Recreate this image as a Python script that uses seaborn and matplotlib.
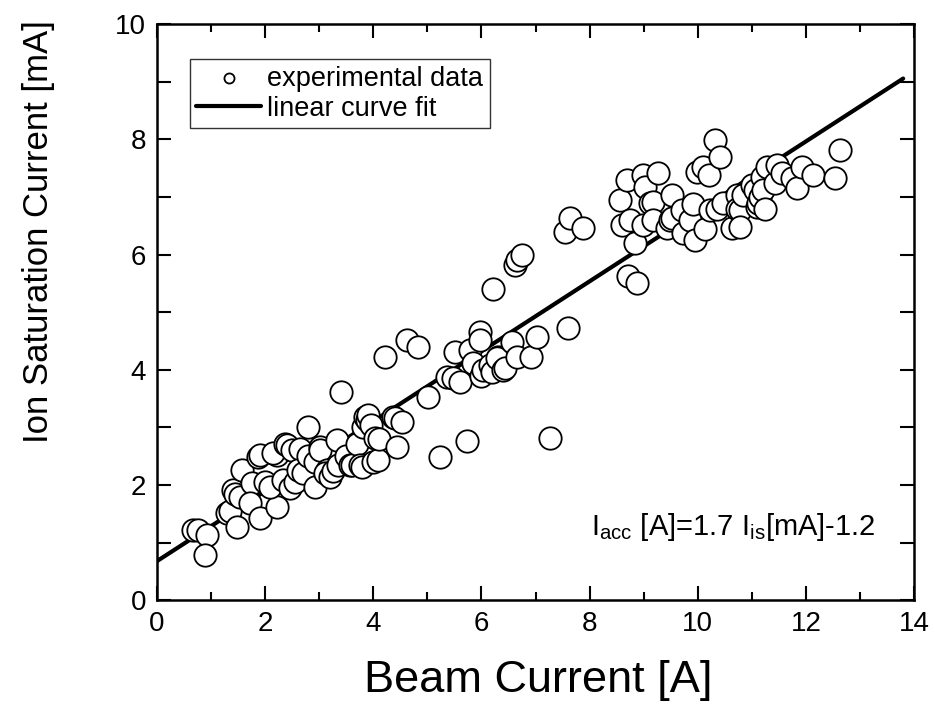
#!/usr/bin/env python3
"""
Ion saturation current vs beam current, with linear fit
"""

import numpy as np
import seaborn as sns
import matplotlib
matplotlib.use("Agg")
import matplotlib.pyplot as plt
from matplotlib.ticker import MultipleLocator

beam_current = [
    0.67, 0.76, 0.92, 0.89,
    1.29, 1.35, 1.48, 1.41, 1.45, 1.57, 1.54, 1.76, 1.72, 1.90, 1.87, 1.90,
    2.00, 2.22, 2.22, 2.15, 2.09, 2.33, 2.37, 2.40, 2.46, 2.50, 2.55, 2.64,
    2.61, 2.70, 2.79, 2.80, 2.92, 2.92, 3.01, 3.01, 3.14, 3.11, 3.20, 3.25,
    3.33, 3.35, 3.40, 3.50, 3.57, 3.61, 3.70, 3.75, 3.79, 3.80, 3.85, 3.88,
    3.90, 3.95, 4.00, 4.03, 4.09, 4.10, 4.22, 4.36, 4.40, 4.44, 4.53, 4.62,
    4.82,
    5.02, 5.23, 5.36, 5.47, 5.60, 5.51, 5.73, 5.79, 5.85, 5.97, 5.97, 6.00,
    6.03, 6.16, 6.21, 6.20, 6.30, 6.29, 6.40, 6.44, 6.57, 6.62, 6.66, 6.75,
    6.66, 6.92, 7.03, 7.27, 7.60, 7.55, 7.64, 7.88,
    8.56, 8.60, 8.69, 8.71, 8.75, 8.88, 8.84, 8.99, 8.99, 9.03, 9.12, 9.18,
    9.18, 9.27, 9.43, 9.49, 9.52, 9.52, 9.71, 9.73, 9.86, 9.91, 9.95, 9.98,
    10.10, 10.20, 10.13, 10.23, 10.32, 10.41, 10.36, 10.47, 10.63, 10.73,
    10.73, 10.78, 10.78, 10.84, 11.00, 11.10, 11.06, 11.12, 11.15, 11.19,
    11.21, 11.24, 11.28, 11.43, 11.46, 11.56, 11.74, 11.84, 11.93, 12.13,
    12.54, 12.63,
]
ion_current = [
    1.22, 1.22, 1.13, 0.78,
    1.51, 1.55, 1.27, 1.91, 1.85, 2.26, 1.79, 2.03, 1.68, 1.42, 2.48, 2.52,
    2.05, 1.62, 2.52, 2.55, 1.97, 2.08, 2.72, 2.69, 1.94, 2.60, 2.05, 2.63,
    2.26, 2.20, 3.00, 2.50, 2.40, 1.96, 2.66, 2.60, 2.26, 2.20, 2.14, 2.25,
    2.78, 2.34, 3.61, 2.50, 2.34, 2.34, 2.72, 2.35, 2.31, 3.00, 3.18, 3.13,
    3.21, 3.05, 2.40, 2.81, 2.43, 2.80, 4.22, 3.18, 3.16, 2.66, 3.09, 4.51,
    4.40,
    3.52, 2.48, 3.88, 3.85, 3.78, 4.31, 2.77, 4.34, 4.11, 4.65, 4.51, 3.90,
    3.99, 4.08, 5.40, 3.96, 4.22, 4.20, 3.99, 4.03, 4.48, 5.82, 5.90, 5.99,
    4.22, 4.22, 4.57, 2.81, 4.72, 6.39, 6.63, 6.46,
    6.94, 6.51, 7.29, 5.62, 6.60, 5.51, 6.20, 7.38, 6.51, 7.17, 6.89, 6.91,
    6.60, 7.41, 6.46, 6.60, 7.03, 6.63, 6.77, 6.38, 6.60, 6.88, 6.25, 7.43,
    7.52, 7.38, 6.44, 6.77, 7.99, 7.70, 6.80, 6.89, 6.46, 7.03,
    6.80, 6.77, 6.48, 7.03, 7.20, 6.82, 7.12, 6.89, 7.00, 7.34,
    7.12, 6.80, 7.52, 7.24, 7.55, 7.41, 7.33, 7.15, 7.52, 7.38,
    7.33, 7.81,
]

# linear fit parameters
fit_slope = 0.607
fit_intercept = 0.68
fit_x = np.array([0.0, 13.8])
fit_y = fit_slope * fit_x + fit_intercept

sns.set_style("ticks")
plt.rcParams["font.family"] = ["Liberation Sans", "DejaVu Sans"]
plt.rcParams["mathtext.fontset"] = "custom"
plt.rcParams["mathtext.rm"] = "Liberation Sans"
plt.rcParams["mathtext.it"] = "Liberation Sans"
plt.rcParams["text.color"] = "black"
plt.rcParams["axes.labelcolor"] = "black"
plt.rcParams["xtick.color"] = "black"
plt.rcParams["ytick.color"] = "black"

fig = plt.figure(figsize=(9.35, 7.12), dpi=100)
ax = fig.add_axes([0.168, 0.157, 0.8095, 0.809])

sns.scatterplot(x=beam_current, y=ion_current, ax=ax, s=260, marker="o",
                facecolor="white", edgecolor="black", linewidth=1.3,
                label="experimental data", zorder=3)
sns.lineplot(x=fit_x, y=fit_y, ax=ax, color="black", linewidth=3,
             label="linear curve fit", zorder=2)

ax.set_xlim(0, 14)
ax.set_ylim(0, 10)
ax.xaxis.set_major_locator(MultipleLocator(2))
ax.xaxis.set_minor_locator(MultipleLocator(1))
ax.yaxis.set_major_locator(MultipleLocator(2))
ax.yaxis.set_minor_locator(MultipleLocator(1))
ax.tick_params(axis="both", which="both", direction="in", top=True, right=True,
               width=1.5, labelsize=20, colors="black")
ax.tick_params(axis="both", which="major", length=10, pad=8)
ax.tick_params(axis="x", which="minor", length=6)
ax.tick_params(axis="y", which="minor", length=10)
for sp in ax.spines.values():
    sp.set_linewidth(1.8)
    sp.set_color("black")

ax.set_xlabel("Beam Current [A]", fontsize=32.5)
ax.xaxis.set_label_coords(0.503, -0.103)
ax.set_ylabel("Ion Saturation Current [mA]", fontsize=25)
ax.yaxis.set_label_coords(-0.135, 0.64)

ax.text(13.3, 1.13, r"I$_{\mathrm{acc}}$ [A]=1.7 I$_{\mathrm{is}}$[mA]-1.2",
        fontsize=21, ha="right", va="baseline")

leg = ax.legend(loc="upper left", bbox_to_anchor=(0.043, 0.94), fontsize=19.5,
                frameon=True, fancybox=False, edgecolor="black",
                handlelength=2.4, handletextpad=0.2, borderpad=0.25,
                labelspacing=0.15, markerscale=0.45, borderaxespad=0)
leg.get_frame().set_linewidth(1.0)

fig.savefig("out.png", dpi=100)
